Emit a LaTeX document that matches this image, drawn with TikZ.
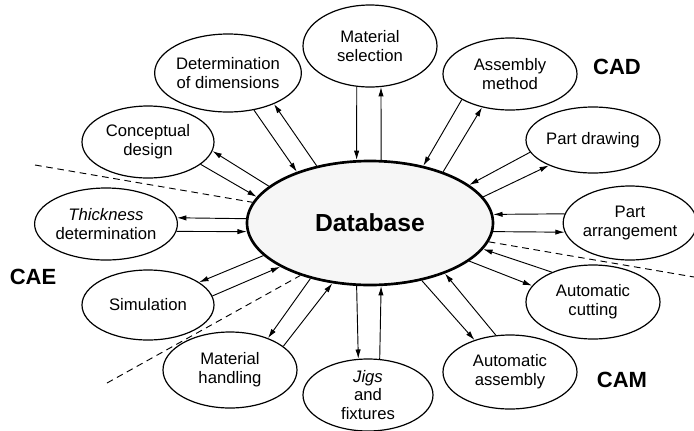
\documentclass[tikz,border=0pt]{standalone}
\usepackage{fontspec}
\setmainfont{Liberation Sans}
\usetikzlibrary{shapes.geometric,arrows.meta}
\begin{document}
\begin{tikzpicture}[x=0.75pt,y=-0.75pt,
  sat/.style 2 args={ellipse,draw,line width=0.9pt,minimum width=#1*0.75pt,minimum height=#2*0.75pt,inner sep=0pt,align=center,font=\fontsize{12.5}{14}\selectfont},
  lnk/.style={line width=0.7pt,-{Latex[length=7pt,width=4pt]}},
  sepline/.style={dash pattern=on 5pt off 3.5pt,line width=0.7pt},
  grp/.style={font=\bfseries\fontsize{16.5}{18}\selectfont}]
\useasboundingbox (0,0) rectangle (694,430);
% central database
\node[ellipse,draw,line width=2pt,fill=gray!7,minimum width=246*0.75pt,minimum height=124*0.75pt,inner sep=0pt,font=\bfseries\fontsize{18.5}{20}\selectfont] (db) at (370,223) {Database};
% satellites
\node[sat={134}{82}] (matsel) at (370,46) {Material\\selection};
\node[sat={144}{78}] (detdim) at (228,73) {Determination\\of dimensions};
\node[sat={132}{72}] (concept) at (148,142) {Conceptual\\design};
\node[sat={136}{72}] (thick) at (106,224) {{\itshape Thickness}\\determination};
\node[sat={132}{70}] (sim) at (148,305) {Simulation};
\node[sat={134}{76}] (mathand) at (230,370) {Material\\handling};
\node[sat={130}{72}] (jigs) at (368,395) {{\itshape Jigs}\\and\\fixtures};
\node[sat={134}{74}] (autoasm) at (510,372) {Automatic\\assembly};
\node[sat={134}{74}] (autocut) at (593,302) {Automatic\\cutting};
\node[sat={124}{74}] (partarr) at (630,223) {Part\\arrangement};
\node[sat={134}{66}] (partdraw) at (593,140) {Part drawing};
\node[sat={134}{72}] (asmmeth) at (510,74) {Assembly\\method};
% group labels
\node[grp] (cad) at (617,67) {CAD};
\node[grp] (cae) at (33,277) {CAE};
\node[grp] (cam) at (622,380) {CAM};
% dashed separators
\coordinate (d1) at (35,165);
\coordinate (d2) at (107,383);
\coordinate (d3) at (694,277);
\draw[sepline] (d1) -- (db.170);
\draw[sepline] (d2) -- (db.217);
\draw[sepline] (db.351) -- (d3);
% connectors
\draw[lnk] (matsel.252) -- (db.102);
\draw[lnk] (db.80) -- (matsel.285);
\draw[lnk] (detdim.305) -- (db.145);
\draw[lnk] (db.133) -- (detdim.326);
\draw[lnk] (concept.337) -- (db.167);
\draw[lnk] (db.160) -- (concept.352);
\draw[lnk] (thick.354) -- (db.184);
\draw[lnk] (db.178) -- (thick.5);
\draw[lnk] (sim.8) -- (db.206);
\draw[lnk] (db.197) -- (sim.24);
\draw[lnk] (mathand.24) -- (db.238);
\draw[lnk] (db.223) -- (mathand.40);
\draw[lnk] (jigs.72) -- (db.280);
\draw[lnk] (db.258) -- (jigs.105);
\draw[lnk] (autoasm.111) -- (db.326);
\draw[lnk] (db.312) -- (autoasm.138);
\draw[lnk] (autocut.144) -- (db.347);
\draw[lnk] (db.339) -- (autocut.165);
\draw[lnk] (partarr.172) -- (db.4);
\draw[lnk] (db.356) -- (partarr.188);
\draw[lnk] (partdraw.191) -- (db.21);
\draw[lnk] (db.13) -- (partdraw.210);
\draw[lnk] (asmmeth.208) -- (db.47);
\draw[lnk] (db.35) -- (asmmeth.230);
\end{tikzpicture}
\end{document}
